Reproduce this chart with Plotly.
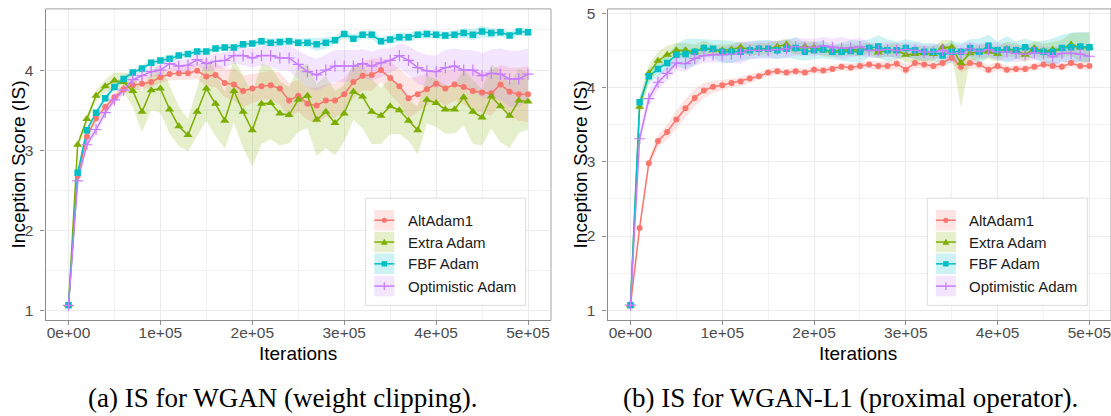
import plotly.graph_objects as go

W, H = 1111, 416

# ---------------- data ----------------
iterations = list(range(0, 500001, 10000))
series_names = ["AltAdam1", "Extra Adam", "FBF Adam", "Optimistic Adam"]
x_tickvals = [0, 100000, 200000, 300000, 400000, 500000]
x_ticktext = ["0e+00", "1e+05", "2e+05", "3e+05", "4e+05", "5e+05"]
x_minor = [50000, 150000, 250000, 350000, 450000]
y_tickvals_a = [1, 2, 3, 4]
y_tickvals_b = [1, 2, 3, 4, 5]
y_minor = [1.5, 2.5, 3.5, 4.5]
captions = ["(a) IS for WGAN (weight clipping).", "(b) IS for WGAN-L1 (proximal operator)."]

# (a) WGAN weight clipping
wgan_alt = [1.07, 2.68, 3.17, 3.40, 3.54, 3.66, 3.76, 3.81, 3.83, 3.85, 3.91, 3.95, 3.96, 3.96, 3.99, 3.92, 3.94,
            3.84, 3.82, 3.74, 3.77, 3.80, 3.81, 3.77, 3.62, 3.68, 3.58, 3.56, 3.62, 3.62, 3.70, 3.85, 3.93, 3.94,
            4.00, 3.90, 3.80, 3.65, 3.70, 3.76, 3.83, 3.77, 3.82, 3.79, 3.74, 3.72, 3.71, 3.82, 3.73, 3.70, 3.70]
wgan_alt_sd = [0.01, 0.05, 0.06, 0.06, 0.06, 0.06, 0.06, 0.06, 0.07, 0.07, 0.07, 0.08, 0.08, 0.08, 0.10, 0.12, 0.15,
               0.18, 0.20, 0.20, 0.18, 0.17, 0.18, 0.20, 0.22, 0.20, 0.20, 0.22, 0.20, 0.22, 0.20, 0.20, 0.18, 0.20,
               0.15, 0.20, 0.22, 0.25, 0.22, 0.20, 0.20, 0.22, 0.20, 0.22, 0.25, 0.25, 0.28, 0.25, 0.30, 0.33, 0.35]
wgan_extra = [1.07, 3.07, 3.39, 3.68, 3.80, 3.87, 3.85, 3.74, 3.48, 3.75, 3.77, 3.51, 3.30, 3.19, 3.48, 3.77, 3.58,
              3.37, 3.74, 3.48, 3.25, 3.58, 3.59, 3.46, 3.44, 3.63, 3.68, 3.38, 3.48, 3.34, 3.46, 3.73, 3.67, 3.48,
              3.43, 3.55, 3.50, 3.37, 3.25, 3.63, 3.59, 3.51, 3.51, 3.66, 3.48, 3.41, 3.67, 3.55, 3.43, 3.62, 3.61]
wgan_extra_sd = [0.01, 0.05, 0.05, 0.07, 0.08, 0.10, 0.12, 0.20, 0.25, 0.25, 0.30, 0.30, 0.25, 0.20, 0.30, 0.40, 0.40,
                 0.35, 0.40, 0.45, 0.45, 0.50, 0.45, 0.40, 0.35, 0.40, 0.40, 0.45, 0.45, 0.40, 0.35, 0.35, 0.40, 0.40,
                 0.35, 0.35, 0.30, 0.25, 0.30, 0.30, 0.30, 0.30, 0.30, 0.35, 0.40, 0.35, 0.40, 0.45, 0.40, 0.40, 0.35]
wgan_fbf = [1.07, 2.72, 3.25, 3.47, 3.65, 3.79, 3.89, 3.97, 4.02, 4.09, 4.12, 4.14, 4.18, 4.20, 4.23, 4.23, 4.27,
            4.28, 4.28, 4.32, 4.33, 4.36, 4.34, 4.35, 4.36, 4.34, 4.34, 4.32, 4.34, 4.37, 4.45, 4.39, 4.44, 4.44,
            4.36, 4.38, 4.41, 4.41, 4.44, 4.45, 4.44, 4.43, 4.44, 4.46, 4.44, 4.48, 4.46, 4.47, 4.43, 4.48, 4.47]
wgan_fbf_sd = [0.01, 0.04, 0.04, 0.04, 0.04, 0.04, 0.04, 0.04, 0.04, 0.04, 0.04, 0.04, 0.04, 0.04, 0.04, 0.04, 0.04,
               0.04, 0.04, 0.04, 0.04, 0.05, 0.05, 0.05, 0.05, 0.05, 0.06, 0.08, 0.07, 0.05, 0.05, 0.05, 0.05, 0.06,
               0.05, 0.05, 0.06, 0.05, 0.05, 0.05, 0.05, 0.05, 0.05, 0.06, 0.07, 0.07, 0.06, 0.05, 0.05, 0.05, 0.05]
wgan_opt = [1.07, 2.62, 3.07, 3.26, 3.47, 3.63, 3.75, 3.88, 3.93, 3.98, 4.00, 4.08, 4.05, 4.06, 4.13, 4.08, 4.11,
            4.12, 4.18, 4.18, 4.15, 4.18, 4.18, 4.15, 4.15, 4.07, 3.98, 3.94, 4.00, 4.05, 4.05, 4.05, 4.08, 4.05,
            4.09, 4.12, 4.18, 4.12, 4.03, 3.99, 3.98, 4.03, 4.05, 4.00, 4.00, 3.93, 3.96, 3.95, 3.89, 3.89, 3.95]
wgan_opt_sd = [0.01, 0.04, 0.04, 0.05, 0.05, 0.05, 0.05, 0.05, 0.06, 0.06, 0.07, 0.07, 0.08, 0.08, 0.08, 0.10, 0.10,
               0.10, 0.10, 0.12, 0.12, 0.12, 0.14, 0.15, 0.16, 0.18, 0.20, 0.20, 0.20, 0.20, 0.20, 0.20, 0.18, 0.18,
               0.18, 0.15, 0.15, 0.18, 0.20, 0.20, 0.20, 0.22, 0.22, 0.25, 0.25, 0.28, 0.30, 0.32, 0.35, 0.35, 0.32]

# (b) WGAN-L1 proximal operator
l1_alt = [1.07, 2.11, 2.98, 3.28, 3.40, 3.57, 3.72, 3.86, 3.96, 4.01, 4.03, 4.06, 4.08, 4.12, 4.15, 4.20, 4.22,
          4.20, 4.22, 4.20, 4.24, 4.23, 4.25, 4.28, 4.27, 4.29, 4.31, 4.29, 4.29, 4.32, 4.24, 4.33, 4.31, 4.29,
          4.33, 4.40, 4.28, 4.33, 4.31, 4.24, 4.29, 4.24, 4.25, 4.25, 4.28, 4.31, 4.29, 4.28, 4.33, 4.29, 4.29]
l1_alt_sd = [0.01, 0.05, 0.07, 0.08, 0.10, 0.12, 0.12, 0.12, 0.10, 0.08, 0.07, 0.06, 0.06, 0.06, 0.05, 0.05, 0.05,
             0.05, 0.05, 0.05, 0.05, 0.05, 0.05, 0.05, 0.05, 0.05, 0.05, 0.06, 0.06, 0.07, 0.07, 0.07, 0.06, 0.06,
             0.06, 0.07, 0.08, 0.07, 0.06, 0.06, 0.06, 0.05, 0.05, 0.05, 0.05, 0.05, 0.05, 0.05, 0.05, 0.05, 0.05]
l1_extra = [1.07, 3.74, 4.19, 4.36, 4.44, 4.50, 4.50, 4.48, 4.53, 4.50, 4.50, 4.51, 4.54, 4.51, 4.52, 4.52, 4.55,
            4.58, 4.52, 4.55, 4.54, 4.50, 4.49, 4.50, 4.51, 4.50, 4.53, 4.47, 4.50, 4.50, 4.44, 4.45, 4.46, 4.45,
            4.54, 4.54, 4.33, 4.46, 4.48, 4.48, 4.45, 4.52, 4.50, 4.44, 4.53, 4.49, 4.51, 4.52, 4.58, 4.54, 4.54]
l1_extra_sd = [0.01, 0.10, 0.12, 0.12, 0.12, 0.10, 0.10, 0.10, 0.10, 0.08, 0.08, 0.08, 0.08, 0.08, 0.08, 0.08, 0.08,
               0.08, 0.08, 0.08, 0.08, 0.08, 0.08, 0.08, 0.08, 0.08, 0.08, 0.08, 0.08, 0.10, 0.10, 0.10, 0.10, 0.10,
               0.10, 0.10, 0.15, 0.10, 0.10, 0.10, 0.10, 0.10, 0.10, 0.10, 0.10, 0.10, 0.10, 0.12, 0.15, 0.20, 0.20]
l1_extra_sd_low = [0.01, 0.10, 0.12, 0.12, 0.12, 0.10, 0.10, 0.10, 0.10, 0.08, 0.08, 0.08, 0.08, 0.08, 0.08, 0.08, 0.08,
                   0.08, 0.08, 0.08, 0.08, 0.08, 0.08, 0.08, 0.08, 0.08, 0.08, 0.08, 0.08, 0.10, 0.10, 0.10, 0.10, 0.10,
                   0.10, 0.10, 0.60, 0.10, 0.10, 0.10, 0.10, 0.10, 0.10, 0.10, 0.10, 0.10, 0.10, 0.12, 0.15, 0.20, 0.20]
l1_fbf = [1.07, 3.80, 4.15, 4.25, 4.33, 4.44, 4.45, 4.48, 4.53, 4.52, 4.48, 4.48, 4.48, 4.50, 4.52, 4.52, 4.50,
          4.52, 4.53, 4.48, 4.50, 4.51, 4.48, 4.48, 4.49, 4.48, 4.53, 4.55, 4.50, 4.50, 4.53, 4.50, 4.48, 4.48,
          4.43, 4.48, 4.48, 4.53, 4.48, 4.56, 4.50, 4.51, 4.50, 4.54, 4.50, 4.48, 4.48, 4.53, 4.54, 4.55, 4.54]
l1_fbf_sd = [0.01, 0.08, 0.10, 0.10, 0.10, 0.15, 0.20, 0.18, 0.12, 0.12, 0.15, 0.15, 0.12, 0.12, 0.12, 0.12, 0.12,
             0.12, 0.15, 0.12, 0.12, 0.12, 0.10, 0.12, 0.15, 0.15, 0.12, 0.15, 0.15, 0.12, 0.12, 0.12, 0.12, 0.12,
             0.12, 0.15, 0.12, 0.12, 0.18, 0.15, 0.12, 0.18, 0.12, 0.12, 0.12, 0.15, 0.18, 0.18, 0.20, 0.20, 0.20]
l1_opt = [1.07, 3.31, 3.85, 4.07, 4.19, 4.33, 4.32, 4.39, 4.43, 4.44, 4.44, 4.45, 4.47, 4.50, 4.50, 4.50, 4.51,
          4.52, 4.55, 4.54, 4.54, 4.56, 4.54, 4.53, 4.53, 4.55, 4.50, 4.50, 4.51, 4.50, 4.51, 4.50, 4.48, 4.48,
          4.50, 4.46, 4.46, 4.52, 4.49, 4.51, 4.48, 4.48, 4.46, 4.45, 4.47, 4.46, 4.41, 4.46, 4.46, 4.45, 4.42]
l1_opt_sd = [0.01, 0.10, 0.10, 0.10, 0.10, 0.10, 0.10, 0.10, 0.10, 0.10, 0.10, 0.12, 0.15, 0.12, 0.12, 0.12, 0.12,
             0.12, 0.12, 0.12, 0.12, 0.12, 0.12, 0.15, 0.12, 0.12, 0.10, 0.10, 0.10, 0.10, 0.10, 0.10, 0.10, 0.10,
             0.10, 0.10, 0.12, 0.10, 0.10, 0.10, 0.12, 0.12, 0.12, 0.10, 0.10, 0.10, 0.12, 0.12, 0.12, 0.10, 0.10]

# ---------------- style ----------------
colors = ["#F8766D", "#7CAE00", "#00BFC4", "#C77CFF"]
fills = ["rgba(248,118,109,0.2)", "rgba(124,174,0,0.2)", "rgba(0,191,196,0.2)", "rgba(199,124,255,0.2)"]
symbols = ["circle", "triangle-up", "square", "cross-thin"]
msizes = [6, 8, 6.5, 8]
SANS = "Liberation Sans, Arial, sans-serif"
SERIF = "Liberation Serif, Times New Roman, serif"

panels = [
    dict(xa="x", ya="y", means=[wgan_alt, wgan_extra, wgan_fbf, wgan_opt],
         hi=[wgan_alt_sd, wgan_extra_sd, wgan_fbf_sd, wgan_opt_sd],
         lo=[wgan_alt_sd, wgan_extra_sd, wgan_fbf_sd, wgan_opt_sd]),
    dict(xa="x2", ya="y2", means=[l1_alt, l1_extra, l1_fbf, l1_opt],
         hi=[l1_alt_sd, l1_extra_sd, l1_fbf_sd, l1_opt_sd],
         lo=[l1_alt_sd, l1_extra_sd_low, l1_fbf_sd, l1_opt_sd]),
]

fig = go.Figure()
for p in panels:
    # ribbons first
    for k in range(4):
        m = p["means"][k]
        upper = [a + b for a, b in zip(m, p["hi"][k])]
        lower = [a - b for a, b in zip(m, p["lo"][k])]
        fig.add_trace(go.Scatter(
            x=iterations + iterations[::-1], y=upper + lower[::-1],
            xaxis=p["xa"], yaxis=p["ya"], mode="lines", fill="toself",
            fillcolor=fills[k], line=dict(width=0), hoverinfo="skip", showlegend=False))
    # lines
    for k in range(4):
        fig.add_trace(go.Scatter(
            x=iterations, y=p["means"][k], xaxis=p["xa"], yaxis=p["ya"], mode="lines",
            line=dict(color=colors[k], width=1.5), showlegend=False, name=series_names[k]))
    # points
    for k in range(4):
        mk = dict(symbol=symbols[k], size=msizes[k], color=colors[k])
        if symbols[k] == "cross-thin":
            mk["line"] = dict(color=colors[k], width=1.2)
        else:
            mk["line"] = dict(width=0)
        fig.add_trace(go.Scatter(
            x=iterations, y=p["means"][k], xaxis=p["xa"], yaxis=p["ya"], mode="markers",
            marker=mk, showlegend=False, name=series_names[k]))


def X(px):
    return px / W


def Y(py):
    return 1 - py / H


ydom = [Y(319.3), Y(5)]
common = dict(showgrid=True, gridcolor="#ebebeb", gridwidth=1.1, zeroline=False,
              showline=True, linecolor="#8c8c8c", linewidth=1.2, ticks="outside", ticklen=4,
              tickcolor="#8c8c8c", tickwidth=1.1, ticklabeloverflow="allow",
              tickfont=dict(family=SANS, size=15.5, color="#4d4d4d"), tickmode="array")

fig.update_layout(
    width=W, height=H, margin=dict(l=0, r=0, t=0, b=0),
    paper_bgcolor="white", plot_bgcolor="white", showlegend=False,
    xaxis=dict(common, domain=[X(45.5), X(551)], range=[-25000, 525000], anchor="y",
               tickvals=x_tickvals, ticktext=x_ticktext, ticklabelstandoff=-6,
               minor=dict(tickvals=x_minor, showgrid=True, gridcolor="#f2f2f2", gridwidth=0.6, ticks="")),
    yaxis=dict(common, domain=ydom, range=[0.885, 4.761], anchor="x",
               tickvals=y_tickvals_a, ticktext=[str(v) for v in y_tickvals_a], ticklabelstandoff=4,
               minor=dict(tickvals=y_minor, showgrid=True, gridcolor="#f2f2f2", gridwidth=0.6, ticks="")),
    xaxis2=dict(common, domain=[X(607.5), 1.0], range=[-25000, 523500], anchor="y2",
                tickvals=x_tickvals, ticktext=x_ticktext, ticklabelstandoff=-6,
                minor=dict(tickvals=x_minor, showgrid=True, gridcolor="#f2f2f2", gridwidth=0.6, ticks="")),
    yaxis2=dict(common, domain=ydom, range=[0.867, 5.057], anchor="x2",
                tickvals=y_tickvals_b, ticktext=[str(v) for v in y_tickvals_b], ticklabelstandoff=4,
                minor=dict(tickvals=y_minor, showgrid=True, gridcolor="#f2f2f2", gridwidth=0.6, ticks="")),
)

shapes = []
annotations = []
# panel borders (top and right)
for xa, ya in [("x", "y"), ("x2", "y2")]:
    shapes.append(dict(type="line", xref=f"{xa} domain", yref=f"{ya} domain", x0=0, x1=1, y0=1, y1=1,
                       line=dict(color="#b3b3b3", width=1.2), layer="above"))
    shapes.append(dict(type="line", xref=f"{xa} domain", yref=f"{ya} domain", x0=1, x1=1, y0=0, y1=1,
                       line=dict(color="#b3b3b3", width=1.2), layer="above"))

# axis titles
for cx, cy in [(297.5, 353), (858, 353)]:
    annotations.append(dict(text="Iterations", x=X(cx), y=Y(cy), xref="paper", yref="paper",
                            xanchor="center", yanchor="middle", showarrow=False,
                            font=dict(family=SANS, size=19, color="black")))
for cx in [18, 580]:
    annotations.append(dict(text="Inception Score (IS)", x=X(cx), y=Y(162), xref="paper", yref="paper",
                            xanchor="center", yanchor="middle", showarrow=False, textangle=-90,
                            font=dict(family=SANS, size=19, color="black")))
# captions
for cap, cx in zip(captions, [282, 850]):
    annotations.append(dict(text=cap, x=X(cx), y=Y(398), xref="paper", yref="paper",
                            xanchor="center", yanchor="middle", showarrow=False,
                            font=dict(family=SERIF, size=27, color="black")))

# legends (drawn manually to mimic ggplot keys)
row_tops = [208, 230, 252, 274.5]
for bx in [365.7, 927.3]:
    shapes.append(dict(type="rect", xref="paper", yref="paper", x0=X(bx), x1=X(bx + 160),
                       y0=Y(304.3), y1=Y(196), line=dict(color="#dcdcdc", width=1),
                       fillcolor="white", layer="above"))
    kx0 = bx + 8.6
    kx1 = kx0 + 20
    kc = (kx0 + kx1) / 2
    for k in range(4):
        t = row_tops[k]
        b = t + 20.7
        cy = (t + b) / 2
        shapes.append(dict(type="rect", xref="paper", yref="paper", x0=X(kx0), x1=X(kx1),
                           y0=Y(b), y1=Y(t), line=dict(width=0), fillcolor=fills[k], layer="above"))
        shapes.append(dict(type="line", xref="paper", yref="paper", x0=X(kx0), x1=X(kx1),
                           y0=Y(cy), y1=Y(cy), line=dict(color=colors[k], width=1.5), layer="above"))
        if k == 0:
            r = 2.6
            shapes.append(dict(type="circle", xref="paper", yref="paper", x0=X(kc - r), x1=X(kc + r),
                               y0=Y(cy + r), y1=Y(cy - r), line=dict(width=0), fillcolor=colors[k],
                               layer="above"))
        elif k == 1:
            s = 3.4
            path = (f"M{X(kc - s)},{Y(cy + s * 0.8)} L{X(kc + s)},{Y(cy + s * 0.8)} "
                    f"L{X(kc)},{Y(cy - s)} Z")
            shapes.append(dict(type="path", xref="paper", yref="paper", path=path, line=dict(width=0),
                               fillcolor=colors[k], layer="above"))
        elif k == 2:
            s = 2.7
            shapes.append(dict(type="rect", xref="paper", yref="paper", x0=X(kc - s), x1=X(kc + s),
                               y0=Y(cy + s), y1=Y(cy - s), line=dict(width=0), fillcolor=colors[k],
                               layer="above"))
        else:
            s = 4
            shapes.append(dict(type="line", xref="paper", yref="paper", x0=X(kc), x1=X(kc),
                               y0=Y(cy + s), y1=Y(cy - s), line=dict(color=colors[k], width=1.2),
                               layer="above"))
        annotations.append(dict(text=series_names[k], x=X(bx + 40), y=Y(cy), xref="paper", yref="paper",
                                xanchor="left", yanchor="middle", showarrow=False,
                                font=dict(family=SANS, size=15, color="#1a1a1a")))

fig.update_layout(shapes=shapes, annotations=annotations)
fig.write_html("out.html", config={"displayModeBar": False},
               post_script="document.body.style.margin='0px';document.body.style.overflow='hidden';")
